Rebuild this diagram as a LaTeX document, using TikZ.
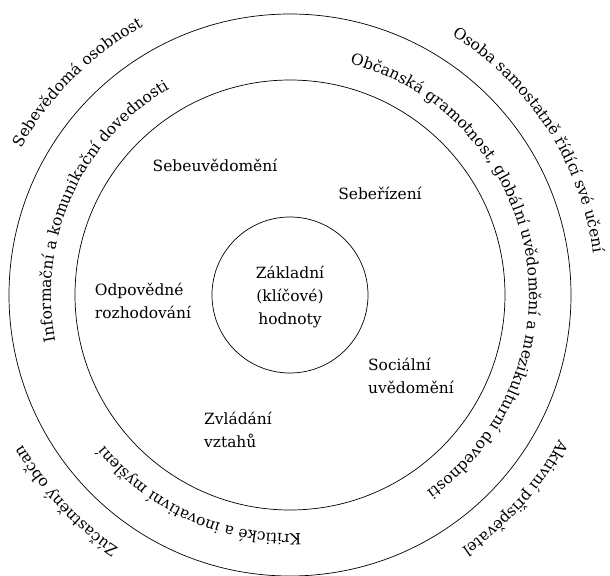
\documentclass[tikz,border=0pt]{standalone}
\usepackage{fontspec}
\setmainfont{DejaVu Serif}
\usetikzlibrary{decorations.text}
\newcommand{\ringfont}{\fontsize{8.8}{13.1}\selectfont}
\tikzset{
  ringlabel/.style={decorate, decoration={text along path, text align=center, text={|\ringfont|#1}}}
}
\begin{document}
\begin{tikzpicture}[scale=0.2]
\tikzstyle{every node}+=[inner sep=0pt, font=\ringfont]
\useasboundingbox (0,0) rectangle (61,-57.5);
\coordinate (c) at (29,-29.5);
\draw [black] (c) circle (28.1);
\draw [black] (c) circle (21.5);
\draw [black] (c) circle (7.8);
\node [align=center] (core) at (29,-29.7) {Základní\\(klíčové)\\hodnoty};
\node (aware) at (21.5,-16.5) {Sebeuvědomění};
\node (manage) at (38,-19.3) {Sebeřízení};
\node [align=left] (decide) at (14.3,-30.1) {Odpovědné\\rozhodování};
\node [align=left] (social) at (41.1,-37.6) {Sociální\\uvědomění};
\node [align=left] (relate) at (23.8,-43) {Zvládání\\vztahů};
% middle ring
\path [shift={(c)}, ringlabel={Informační a komunikační dovednosti}] (245.7:23.9) arc (245.7:65.7:23.9);
\path [shift={(c)}, ringlabel={Občanská gramotnost, globální uvědomění a mezikulturní dovednosti}] (100.2:23.9) arc (100.2:-79.8:23.9);
\path [shift={(c)}, ringlabel={Kritické a inovativní myšlení}] (335.9:23.9) arc (335.9:155.9:23.9);
% outer labels
\path [shift={(c)}, ringlabel={Sebevědomá osobnost}] (225:30.6) arc (225:45:30.6);
\path [shift={(c)}, ringlabel={Osoba samostatně řídící své učení}] (123:30.6) arc (123:-57:30.6);
\path [shift={(c)}, ringlabel={Zúčastněný občan}] (312.6:30.6) arc (312.6:132.6:30.6);
\path [shift={(c)}, ringlabel={Aktivní přispěvatel}] (48:30.6) arc (48:-132:30.6);
\end{tikzpicture}
\end{document}
